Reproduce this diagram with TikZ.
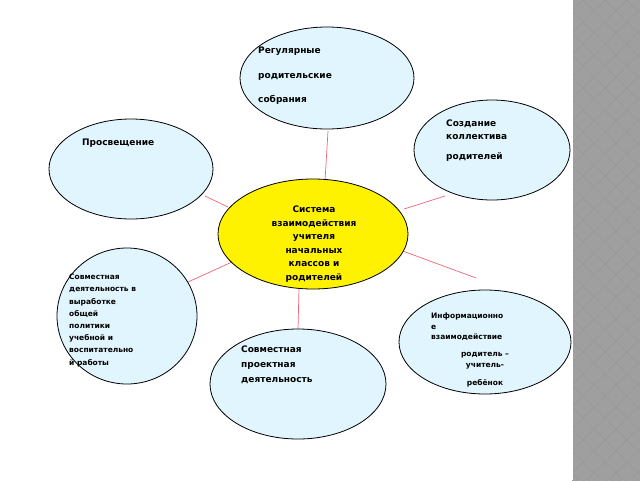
\documentclass[tikz,border=0pt]{standalone}
\usepackage{fontspec}
\setmainfont{DejaVu Sans}
\begin{document}
\begin{tikzpicture}[x=1pt,y=-1pt,
  bub/.style={draw=black,line width=0.8pt,fill=cyan!12},
  link/.style={draw=red!50!purple!60,line width=0.7pt},
  txt/.style={font=\bfseries\fontsize{8.5}{11}\selectfont,align=left,inner sep=0pt}]
\useasboundingbox (0,0) rectangle (640,480);
\fill[white] (0,0) rectangle (640,480);
\fill[gray!85!black] (572,0) rectangle (640,480);
\begin{scope}
\clip (572,0) rectangle (640,480);
\foreach \i in {0,...,4} \foreach \j in {0,...,22} {
  \fill[gray!75] (572+\i*22,\j*22-11) -- ++(11,11) -- ++(-11,11) -- ++(-11,-11) -- cycle;
  \fill[gray!75] (583+\i*22,\j*22) -- ++(11,11) -- ++(-11,11) -- ++(-11,-11) -- cycle;
}
\end{scope}
\draw[white,line width=1.5pt] (572,0) -- (572,480);
% lines
\coordinate (c1) at (328,131); \coordinate (c1b) at (325,181);
\draw[link] (c1) -- (c1b);
\coordinate (c2) at (445,196); \coordinate (c2b) at (404,209);
\draw[link] (c2) -- (c2b);
\coordinate (c3) at (205,196); \coordinate (c3b) at (228,207);
\draw[link] (c3) -- (c3b);
\coordinate (c4) at (188,282); \coordinate (c4b) at (232,262);
\draw[link] (c4) -- (c4b);
\coordinate (c5) at (400,250); \coordinate (c5b) at (476,278);
\draw[link] (c5) -- (c5b);
\coordinate (c6) at (299,288); \coordinate (c6b) at (298,330);
\draw[link] (c6) -- (c6b);
% bubbles
\draw[bub] (327,78) ellipse [x radius=87,y radius=51];
\draw[bub] (492,150) ellipse [x radius=78,y radius=50];
\draw[bub] (131,169) ellipse [x radius=82,y radius=50];
\draw[bub] (127,316) ellipse [x radius=70,y radius=68];
\draw[bub] (485,342) ellipse [x radius=86,y radius=52];
\draw[bub] (298,384) ellipse [x radius=88,y radius=55];
\draw[draw=black,line width=0.8pt,fill=yellow] (313,234) ellipse [x radius=95,y radius=55];
% texts
\node[txt,anchor=north west,font=\bfseries\fontsize{9}{24.5}\selectfont] (t1) at (258,47) {Регулярные\\родительские\\собрания};
\node[txt,anchor=north west,font=\bfseries\fontsize{9}{13}\selectfont] (t2) at (446,120) {Создание\\коллектива\\[7pt]родителей};
\node[txt,anchor=north west,font=\bfseries\fontsize{9}{11}\selectfont] (t3) at (82,139) {Просвещение};
\node[txt,align=center,font=\bfseries\fontsize{9}{13.5}\selectfont] (t4) at (314,244) {Система\\взаимодействия\\учителя\\начальных\\классов и\\родителей};
\node[txt,anchor=north west,font=\bfseries\fontsize{7.5}{12.2}\selectfont] (t5) at (69,274) {Совместная\\деятельность в\\выработке\\общей\\политики\\учебной и\\воспитательно\\й работы};
\node[txt,anchor=north west,font=\bfseries\fontsize{7.5}{10.5}\selectfont] (t6) at (431,313) {Информационно\\е\\взаимодействие};
\node[txt,align=center,font=\bfseries\fontsize{7.5}{11}\selectfont] (t7) at (485,370) {родитель –\\учитель-\\[7pt]ребёнок};
\node[txt,anchor=north west,font=\bfseries\fontsize{9}{15}\selectfont] (t8) at (241,346) {Совместная\\проектная\\деятельность};
\end{tikzpicture}
\end{document}
